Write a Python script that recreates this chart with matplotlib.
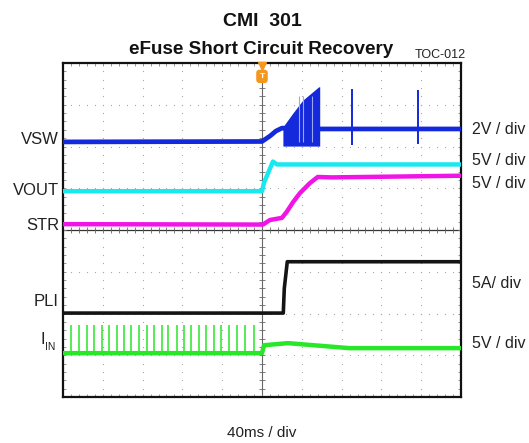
import numpy as np
import matplotlib.pyplot as plt

plt.rcParams['font.family'] = ['Liberation Sans', 'DejaVu Sans']

# scope traces: time in ms (40 ms/div), level in divisions on screen
vsw_t = [-200, 0, 8, 14, 20, 58, 200]
vsw_v = [2.11, 2.12, 2.25, 2.37, 2.44, 2.42, 2.42]
burst_t = [21, 31, 41, 51, 57, 58]
burst_hi = [2.47, 2.80, 3.11, 3.31, 3.43, 3.43]
burst_lo = [2.01, 2.01, 2.01, 2.01, 2.01, 2.01]
burst_gaps = [37, 41, 50]
vsw_spike_t = [90, 157]
vsw_spike_lo = [2.04, 2.05]
vsw_spike_hi = [3.38, 3.35]

vout_t = [-200, 0, 2, 11, 15, 200]
vout_v = [0.93, 0.93, 1.13, 1.64, 1.57, 1.57]

str_t = [-200, 1, 8, 20, 25, 31, 38, 48, 56, 70, 200]
str_v = [0.14, 0.13, 0.24, 0.29, 0.44, 0.66, 0.88, 1.12, 1.27, 1.26, 1.30]

pli_t = [-200, 21.4, 22.4, 25.4, 200]
pli_v = [-1.99, -1.99, -1.40, -0.76, -0.76]

iin_t = [-200, 0, 2, 26, 88, 200]
iin_v = [-2.95, -2.95, -2.76, -2.71, -2.83, -2.83]
iin_spike_t = [-192, -184, -176, -169, -161, -154, -146, -139, -132, -124,
               -116, -109, -101, -94, -85, -78, -71, -63, -56, -48,
               -41, -33, -25, -17, -8]
iin_spike_peak = -2.27
iin_base = -2.95

left_labels = ['VSW', 'VOUT', 'STR', 'PLI']
left_label_y = [140, 190, 225, 302]
right_labels = ['2V / div', '5V / div', '5V / div', '5A/ div', '5V / div']
right_label_y = [129, 161, 184, 284, 343]

BLUE = '#1428dc'
CYAN = '#18e8f0'
MAGENTA = '#f014e6'
BLACK = '#141414'
GREEN = '#28e628'
ORANGE = '#f5961e'

W, H = 529, 443
fig = plt.figure(figsize=(W / 100, H / 100), dpi=100)
ax = fig.add_axes([63 / W, 1 - 397 / H, (461 - 63) / W, (397 - 63) / H])
ax.set_xlim(-200, 200)
ax.set_ylim(-4, 4)

# graticule
fine_x = np.arange(-200, 201, 8)
fine_y = np.arange(-4, 4.01, 0.2)
for gx in range(-160, 161, 40):
    if gx == 0:
        continue
    ax.plot(np.full(len(fine_y), gx), fine_y, ls='none', marker='s',
            ms=0.8, mew=0, color='#a8a8a8', zorder=1)
for gy in range(-3, 4):
    if gy == 0:
        continue
    ax.plot(fine_x, np.full(len(fine_x), gy), ls='none', marker='s',
            ms=0.8, mew=0, color='#a8a8a8', zorder=1)
ax.axvline(0, color='#666666', lw=0.8, zorder=1)
ax.axhline(0, color='#333333', lw=0.9, zorder=1)
ax.plot(fine_x, np.zeros(len(fine_x)), ls='none', marker='|', ms=4,
        mew=0.6, color='#666666', zorder=1)
ax.plot(np.zeros(len(fine_y)), fine_y, ls='none', marker='_', ms=4,
        mew=0.6, color='#666666', zorder=1)

ax.set_xticks(fine_x)
ax.set_yticks(fine_y)
ax.tick_params(direction='in', length=2.5, width=0.6, colors='#888888',
               top=True, right=True, labelbottom=False, labelleft=False)
for s in ax.spines.values():
    s.set_linewidth(1.6)
    s.set_color('#111111')

# traces
ax.plot(vsw_t, vsw_v, color=BLUE, lw=3.4, zorder=3)
ax.fill_between(burst_t, burst_lo, burst_hi, color=BLUE, lw=0, zorder=3)
ax.vlines(burst_gaps, 2.1, 3.2, color='#9aa8f0', lw=0.8, zorder=3)
ax.vlines(vsw_spike_t, vsw_spike_lo, vsw_spike_hi, color=BLUE, lw=1.4, zorder=3)

ax.plot(vout_t, vout_v, color=CYAN, lw=3.2, zorder=3)
ax.plot(str_t, str_v, color=MAGENTA, lw=3.2, zorder=3)
ax.plot(pli_t, pli_v, color=BLACK, lw=2.6, zorder=3)
ax.plot(iin_t, iin_v, color=GREEN, lw=3.2, zorder=3)
ax.vlines(iin_spike_t, iin_base, iin_spike_peak, color=GREEN, lw=1.1, zorder=3)

# trigger marker
ax.plot([0], [3.93], marker='v', ms=6, color=ORANGE, zorder=5, clip_on=False)
ax.text(0, 3.68, 'T', ha='center', va='center', fontsize=6, color='white',
        fontweight='bold', zorder=6,
        bbox=dict(boxstyle='round,pad=0.3', fc=ORANGE, ec=ORANGE))

# text
def ftext(x, y, s, **kw):
    fig.text(x / W, 1 - y / H, s, **kw)

ftext(262, 21, 'CMI  301', ha='center', va='center', fontsize=14,
      fontweight='bold', color='#111111')
ftext(261, 49, 'eFuse Short Circuit Recovery', ha='center', va='center',
      fontsize=13.6, fontweight='bold', color='#111111')
ftext(415, 55, 'TOC-012', ha='left', va='center', fontsize=9, color='#222222')
ftext(262, 433, '40ms / div', ha='center', va='center', fontsize=11,
      color='#222222')

for lab, y in zip(left_labels, left_label_y):
    ftext(59, y, lab, ha='right', va='center', fontsize=12, color='#222222')
ftext(41, 340, 'I', ha='left', va='center', fontsize=12, color='#222222')
ftext(45, 347, 'IN', ha='left', va='center', fontsize=7.5, color='#222222')

for lab, y in zip(right_labels, right_label_y):
    ftext(472, y, lab, ha='left', va='center', fontsize=11.5, color='#222222')

fig.savefig('out.png', dpi=100)
